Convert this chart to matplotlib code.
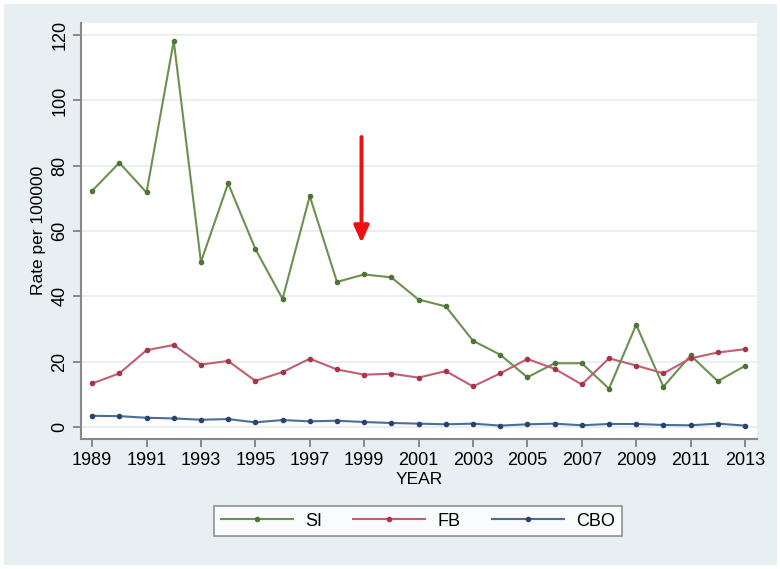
import matplotlib
matplotlib.use("Agg")
import matplotlib.pyplot as plt
from matplotlib.patches import Rectangle

plt.rcParams['font.family'] = ['Liberation Sans', 'DejaVu Sans']

years = list(range(1989, 2014))
si = [72.3, 80.9, 71.8, 118.2, 50.5, 74.6, 54.5, 39.2, 70.7, 44.4, 46.7, 45.8,
      39.0, 36.9, 26.4, 22.1, 15.2, 19.5, 19.5, 11.7, 31.3, 12.3, 21.9, 14.0, 18.7]
fb = [13.3, 16.4, 23.5, 25.1, 19.1, 20.2, 14.1, 16.8, 20.9, 17.6, 16.0, 16.3,
      15.1, 17.1, 12.4, 16.4, 20.8, 17.8, 13.0, 21.0, 18.8, 16.4, 21.0, 22.8, 23.8]
cbo = [3.4, 3.3, 2.8, 2.6, 2.2, 2.4, 1.4, 2.1, 1.7, 1.9, 1.5, 1.2,
       1.0, 0.8, 1.0, 0.4, 0.8, 1.0, 0.5, 0.9, 0.9, 0.6, 0.5, 1.0, 0.4]
xticks = list(range(1989, 2014, 2))
yticks = [0, 20, 40, 60, 80, 100, 120]
arrow_x = 1998.9
arrow_from, arrow_to = 88.8, 56.4

BG = '#e8eff2'
fig = plt.figure(figsize=(7.8, 5.69), dpi=100, facecolor='white')
fig.patches.append(Rectangle((4/780, 4/569), 773/780, 561/569, transform=fig.transFigure,
                             facecolor=BG, edgecolor='none', zorder=-10))

ax = fig.add_axes([80.7/780, 1 - 439/569, (757 - 80.7)/780, (439 - 22.7)/569])
ax.set_facecolor('white')

ax.plot(years, si, color='#6b9150', lw=1.5, marker='o', ms=3, mfc='#4d7534', mec='#4d7534', label='SI', zorder=3)
ax.plot(years, fb, color='#c0606e', lw=1.5, marker='o', ms=3, mfc='#a8344a', mec='#a8344a', label='FB', zorder=3)
ax.plot(years, cbo, color='#4a6d9a', lw=1.5, marker='o', ms=3, mfc='#26456f', mec='#26456f', label='CBO', zorder=3)

ax.annotate('', xy=(arrow_x, arrow_to), xytext=(arrow_x, arrow_from),
            arrowprops=dict(arrowstyle='-|>,head_width=0.45,head_length=1.0', color='#ee1111', lw=2.8,
                            shrinkA=0, shrinkB=0), zorder=4)

ax.set_xlim(1988.58, 2013.44)
ax.set_ylim(-3.7, 123.8)
ax.set_xticks(xticks)
ax.set_yticks(yticks)
ax.set_yticklabels([str(v) for v in yticks], rotation=90, va='center')
ax.tick_params(axis='both', labelsize=13, color='#777777', length=6, width=1.2, direction='out')
ax.tick_params(axis='y', pad=3)
ax.grid(axis='y', color='#e6eef0', lw=1.2)
ax.set_axisbelow(True)
for s in ['top', 'right']:
    ax.spines[s].set_visible(False)
for s in ['left', 'bottom']:
    ax.spines[s].set_color('#888888')
    ax.spines[s].set_linewidth(1.5)

ax.set_xlabel('YEAR', fontsize=12.5, labelpad=2)
ax.set_ylabel('Rate per 100000', fontsize=12.5, labelpad=4)

leg = fig.legend(loc='center', bbox_to_anchor=((209 + 627) / 2 / 780, 1 - 521/569), ncol=3,
                 fontsize=13, frameon=True, fancybox=False, handlelength=4.0, columnspacing=1.7,
                 handletextpad=0.7, borderpad=0.35, borderaxespad=0)
leg.get_frame().set_edgecolor('#777777')
leg.get_frame().set_linewidth(1.2)
for h in leg.get_lines():
    h.set_markersize(3)

fig.savefig('out.png', dpi=100, facecolor='white')
